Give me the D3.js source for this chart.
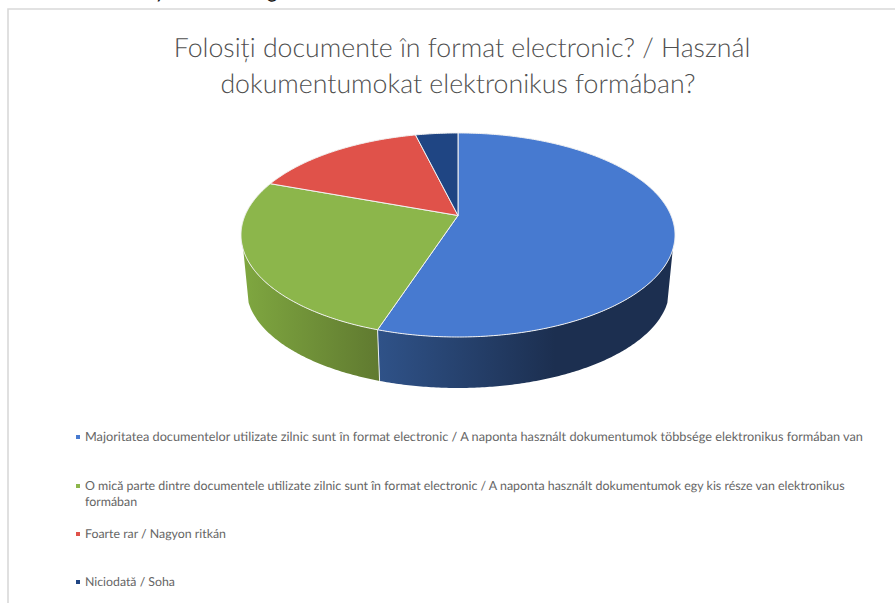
<!DOCTYPE html>
<html>
<head>
<meta charset="utf-8">
<style>
html,body{margin:0;padding:0;background:#fff;overflow:hidden}
svg{display:block;text-rendering:geometricPrecision}
</style>
<script src="https://cdn.jsdelivr.net/npm/d3@7"></script>
</head>
<body>
<svg id="chart" width="895" height="603"></svg>
<script>
const titleLines = ["Folosiți documente în format electronic? / Használ", "dokumentumokat elektronikus formában?"];
const categories = [
  ["Majoritatea documentelor utilizate zilnic sunt în format electronic / A naponta használt dokumentumok többsége elektronikus formában van"],
  ["O mică parte dintre documentele utilizate zilnic sunt în format electronic / A naponta használt dokumentumok egy kis része van elektronikus", "formában"],
  ["Foarte rar / Nagyon ritkán"],
  ["Niciodată / Soha"]
];
const values = [55, 25.6, 15.6, 3.8];
const colors = ["#477ad0", "#8cb64b", "#e0524a", "#1f4583"];
const legendY = [437, 486, 534, 582];
const legendSizes = [12.72, 12.42, 12.35, 12.3];
const titleCentres = [462, 458];

const svg = d3.select("#chart");
const defs = svg.append("defs");

// Tails of the heading line that sits above the chart, cut by the top edge
svg.append("g").selectAll("text").data([["y", 155], ["g", 267]]).join("text")
  .attr("x", d => d[1]).attr("y", -2)
  .attr("font-family", "Lato, 'Open Sans', sans-serif")
  .attr("font-size", 20).attr("fill", "#111")
  .text(d => d[0]);

// Frame around the chart, running off the right and bottom edges
svg.append("path")
  .attr("d", "M8,603V9H895")
  .attr("fill", "none").attr("stroke", "#d9d9d9").attr("stroke-width", 1.6);

// Title
svg.append("g").selectAll("text").data(titleLines).join("text")
  .attr("x", (d, i) => titleCentres[i]).attr("y", (d, i) => 57 + i * 36)
  .attr("text-anchor", "middle")
  .attr("font-family", "Lato, 'Open Sans', sans-serif")
  .attr("font-size", 26.7).attr("font-weight", 300).attr("fill", "#4f4f4f")
  .text(d => d);

// Tilted pie: a disc seen in perspective, with a rim dropping below it
const cx = 458, cy = 215.5, persp = 0.191;
const radiusX = d3.scaleLinear().domain([0, 1]).range([0, 213]);
const radiusY = d3.scaleLinear().domain([0, 1]).range([0, 98.3]);
const lowerScale = 0.975, lowerDrop = 54;

function project(angle, lower) {
  const u = Math.sin(angle), v = -Math.cos(angle);
  const w = 1 - persp * v, s = lower ? lowerScale : 1;
  return [
    cx + s * radiusX(u) / w,
    cy + (lower ? lowerDrop : 0) + s * radiusY(v) / w
  ];
}
const line = d3.line();
const arcAngles = (a0, a1) => {
  const n = Math.max(2, Math.ceil(Math.abs(a1 - a0) / 0.01));
  return d3.range(n + 1).map(i => a0 + (a1 - a0) * i / n);
};

const pie = d3.pie().sort(null).value(d => d)(values);

// Visible stretch of the rim, where the side meets the silhouette
const rimStart = 109 * Math.PI / 180, rimEnd = 251 * Math.PI / 180;

const rimShades = [
  {id: "rim0", x1: 379, x2: 555, stops: ["#2f5288", "#1c2f50"]},
  {id: "rim1", x1: 243, x2: 379, stops: ["#7fa740", "#607a30"]}
];
rimShades.forEach(g => {
  const lg = defs.append("linearGradient").attr("id", g.id)
    .attr("gradientUnits", "userSpaceOnUse")
    .attr("x1", g.x1).attr("x2", g.x2).attr("y1", 0).attr("y2", 0);
  lg.append("stop").attr("offset", 0).attr("stop-color", g.stops[0]);
  lg.append("stop").attr("offset", 1).attr("stop-color", g.stops[1]);
});

const rim = svg.append("g");
pie.forEach((p, i) => {
  const a0 = Math.max(p.startAngle, rimStart), a1 = Math.min(p.endAngle, rimEnd);
  if (a1 <= a0) return;
  const angles = arcAngles(a0, a1);
  const pts = angles.map(a => project(a, false))
    .concat(angles.slice().reverse().map(a => project(a, true)));
  rim.append("path")
    .attr("d", line(pts) + "Z")
    .attr("fill", "url(#rim" + i + ")");
});
// Seam between the two visible rim sections
const seam = pie[0].endAngle;
rim.append("path")
  .attr("d", line([project(seam, false), project(seam, true)]))
  .attr("stroke", "#e8edf2").attr("stroke-width", 1).attr("fill", "none");

// Top face of the pie
svg.append("g").selectAll("path").data(pie).join("path")
  .attr("d", p => {
    const pts = [[cx, cy]].concat(arcAngles(p.startAngle, p.endAngle).map(a => project(a, false)));
    return line(pts) + "Z";
  })
  .attr("fill", (p, i) => colors[i])
  .attr("stroke", "#f2f2f2").attr("stroke-width", 1).attr("stroke-linejoin", "round");

// Legend
const legend = svg.append("g");
categories.forEach((lines, i) => {
  legend.append("rect")
    .attr("x", 76).attr("y", legendY[i] - 2).attr("width", 4).attr("height", 4)
    .attr("fill", colors[i]);
  legend.selectAll(null).data(lines).join("text")
    .attr("x", 85).attr("y", (d, j) => legendY[i] + 4 + j * 16)
    .attr("font-family", "Lato, 'Open Sans', sans-serif")
    .attr("font-size", legendSizes[i]).attr("fill", "#666")
    .text(d => d);
});
</script>
</body>
</html>
